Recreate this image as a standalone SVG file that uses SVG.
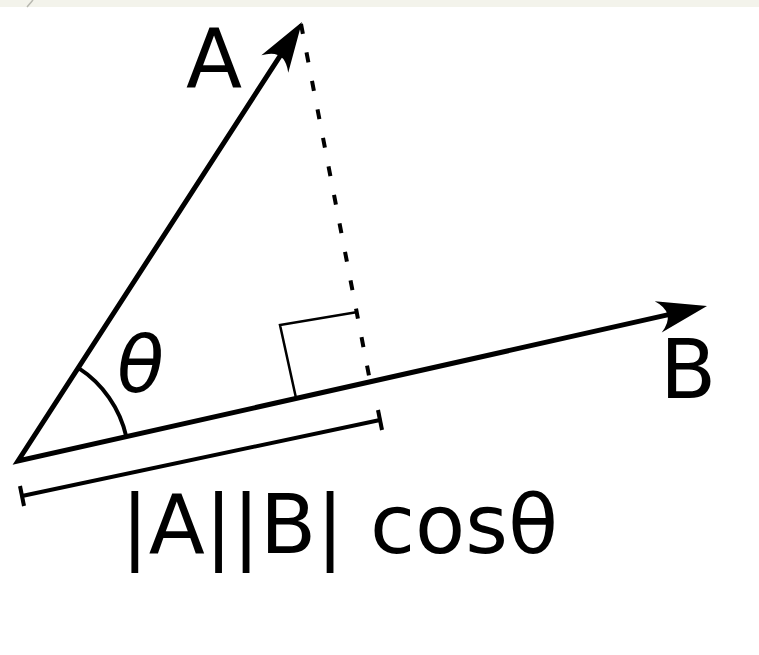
<svg xmlns="http://www.w3.org/2000/svg" width="759" height="655" viewBox="0 0 759 655">
  <style>
    .lbl { font-family: "DejaVu Sans", "Liberation Sans", sans-serif; fill: #000; }
    .vec { fill: none; stroke: #000; stroke-width: 5; stroke-linejoin: miter; }
    .thin { fill: none; stroke: #000; stroke-width: 2.5; }
  </style>
  <defs>
    <marker id="arrow" markerUnits="userSpaceOnUse" markerWidth="60" markerHeight="40" refX="35" refY="20" orient="auto-start-reverse" overflow="visible">
      <path d="M55,20 L5,4 Q24,20 5,36 Z" fill="#000"/>
    </marker>
  </defs>
  <rect x="0" y="0" width="759" height="655" fill="#fff"/>
  <rect x="0" y="0" width="759" height="7" fill="#f3f3eb"/>
  <line x1="33" y1="0" x2="27" y2="7" stroke="#b8b8b0" stroke-width="1.5"/>

  <g id="connectors">
    <path id="vectors" class="vec" d="M291.1,38.8 L18,461 L687.5,310.4" marker-start="url(#arrow)" marker-end="url(#arrow)"/>
    <line id="projection" x1="301" y1="24" x2="370" y2="381" stroke="#000" stroke-width="4" stroke-dasharray="10 19"/>
    <path id="right-angle" class="thin" d="M296,398 L280,325 L357.6,312"/>
    <path id="angle-arc" fill="none" stroke="#000" stroke-width="4" d="M78.3,367.9 A111,111 0 0 1 126.3,436.6"/>
    <g id="measure" stroke="#000" stroke-width="4" fill="none">
      <line x1="22" y1="496" x2="380" y2="420"/>
      <line x1="20" y1="486" x2="24" y2="506"/>
      <line x1="378" y1="410" x2="382" y2="430"/>
    </g>
  </g>

  <g id="label-A"><text class="lbl" x="186" y="87" font-size="82">A</text></g>
  <g id="label-B"><text class="lbl" x="660" y="398" font-size="82">B</text></g>
  <g id="label-theta"><text class="lbl" x="0" y="0" font-size="78" transform="translate(112,392) skewX(-9)">θ</text></g>
  <g id="label-proj"><text class="lbl" x="121" y="553" font-size="82">|A||B| cosθ</text></g>
</svg>
